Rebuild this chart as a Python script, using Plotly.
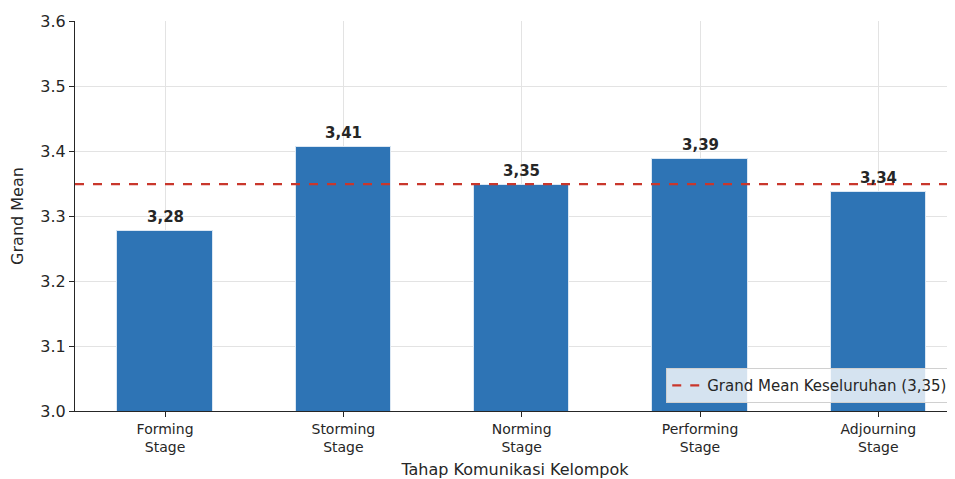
import plotly.graph_objects as go

categories = ["Forming<br>Stage", "Storming<br>Stage", "Norming<br>Stage", "Performing<br>Stage", "Adjourning<br>Stage"]
values = [3.277, 3.406, 3.348, 3.388, 3.337]
labels = ["3,28", "3,41", "3,35", "3,39", "3,34"]
grand_mean = 3.349
grand_mean_label = "Grand Mean Keseluruhan (3,35)"
y_ticks = [3.0, 3.1, 3.2, 3.3, 3.4, 3.5, 3.6]

FONT = "DejaVu Sans"
fig = go.Figure()
fig.add_trace(go.Bar(
    x=categories, y=values, width=0.535,
    marker=dict(color="#2e74b5", line=dict(color="#dbe7f3", width=1)),
    showlegend=False, hoverinfo="skip",
))
for c, v, t in zip(categories, values, labels):
    fig.add_annotation(x=c, y=v, text="<b>" + t + "</b>", showarrow=False,
                       yanchor="bottom", yshift=3,
                       font=dict(family=FONT, size=15, color="#262626"))

fig.add_shape(type="line", xref="x domain", x0=0, x1=1, yref="y", y0=grand_mean, y1=grand_mean,
              line=dict(color="#c9372c", width=2.2, dash="dash"),
              showlegend=True, name=grand_mean_label, layer="above")

fig.update_layout(
    width=947, height=471,
    margin=dict(l=67, r=0, t=13, b=68, autoexpand=False),
    plot_bgcolor="white", paper_bgcolor="white",
    font=dict(family=FONT, color="#262626"),
    bargap=0.0,
    legend=dict(x=0.998, xanchor="right", y=0.02, yanchor="bottom",
                bgcolor="rgba(255,255,255,0.8)", bordercolor="#d0d0d0", borderwidth=1,
                font=dict(family=FONT, size=15, color="#262626")),
    xaxis=dict(
        range=[-0.505, 4.43], automargin=False,
        showline=True, linecolor="#262626", linewidth=1.2,
        ticks="outside", ticklen=5, tickcolor="#262626",
        showgrid=True, gridcolor="#e3e3e3", gridwidth=1,
        tickfont=dict(family=FONT, size=14, color="#262626"),
        title=dict(text="Tahap Komunikasi Kelompok", font=dict(family=FONT, size=16, color="#262626"), standoff=11),
    ),
    yaxis=dict(
        range=[3.0, 3.6], tickvals=y_ticks, ticktext=[f"{t:.1f}" for t in y_ticks], automargin=False,
        showline=True, linecolor="#262626", linewidth=1.2,
        ticks="outside", ticklen=5, tickcolor="#262626",
        showgrid=True, gridcolor="#e3e3e3", gridwidth=1, zeroline=False,
        tickfont=dict(family=FONT, size=16, color="#262626"),
        title=dict(text="Grand Mean", font=dict(family=FONT, size=16, color="#262626"), standoff=12),
    ),
)
fig.write_html("out.html")
